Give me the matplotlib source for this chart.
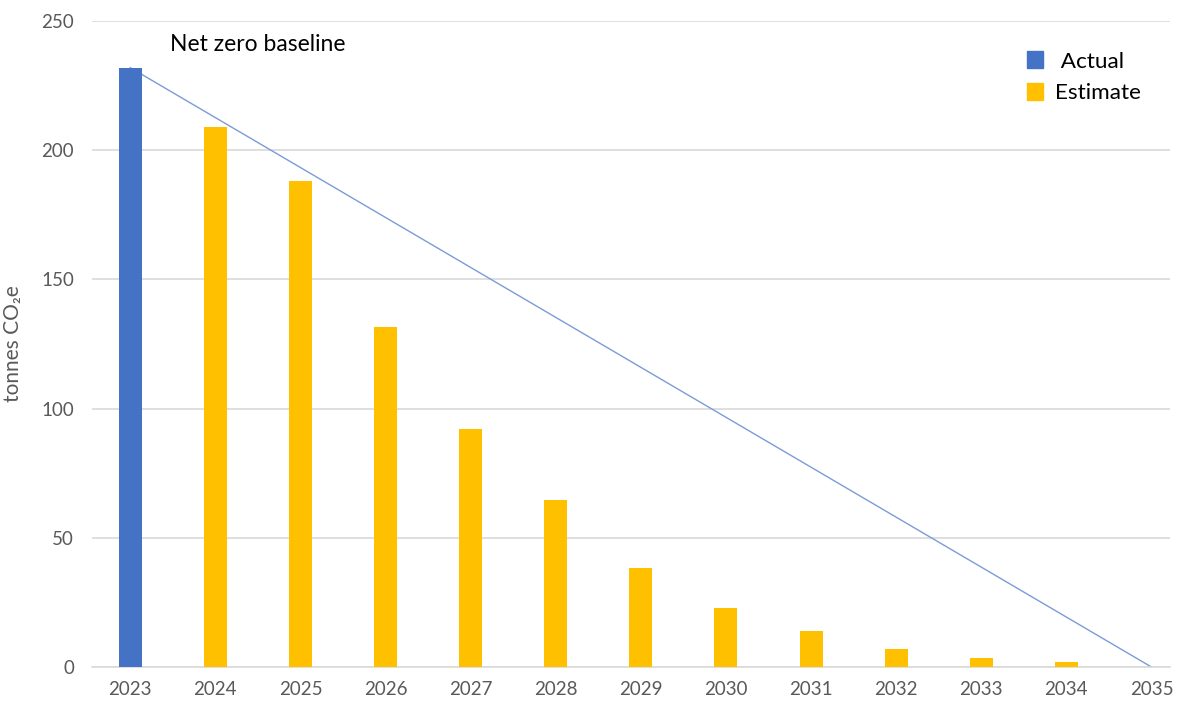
import matplotlib.pyplot as plt
from matplotlib.patches import Patch

plt.rcParams['font.family'] = ['Lato', 'DejaVu Sans']

# data
years = [2023, 2024, 2025, 2026, 2027, 2028, 2029, 2030, 2031, 2032, 2033, 2034, 2035]
actual = [232, 0, 0, 0, 0, 0, 0, 0, 0, 0, 0, 0, 0]
estimate = [0, 209, 188, 131.5, 92, 64.5, 38.5, 23, 14, 7, 3.5, 1.8, 0]
baseline_years = [2023, 2035]
baseline = [232, 0]

blue = '#4472C4'
gold = '#FFC000'
grey = '#595959'

fig = plt.figure(figsize=(11.88, 7.05), dpi=100)
ax = fig.add_axes([0.0774, 0.0539, 0.985 - 0.0774, 0.970 - 0.0539])

ax.plot(baseline_years, baseline, color='#7A9CD6', lw=1.0, zorder=2)
ax.bar(years, actual, width=0.27, color=blue, zorder=3)
ax.bar(years, estimate, width=0.27, color=gold, zorder=3)

ax.set_xlim(2022.55, 2035.22)
ax.set_ylim(0, 250)
ax.set_yticks(range(0, 251, 50))
ax.set_xticks(years)
ax.set_xticklabels([str(y) for y in years])
ax.grid(axis='y', color='#D9D9D9', lw=1.2, zorder=0)
ax.set_axisbelow(True)
for s in ['top', 'right', 'left']:
    ax.spines[s].set_visible(False)
ax.spines['bottom'].set_color('#D9D9D9')
ax.spines['bottom'].set_linewidth(1.2)
ax.tick_params(axis='both', length=0, labelsize=13.5, colors=grey, pad=10)
ax.tick_params(axis='y', pad=13)
ax.set_ylabel('tonnes CO₂e', fontsize=15, color=grey)
ax.yaxis.set_label_coords(-0.064, 0.5)

ax.text(2023.47, 241, 'Net zero baseline', fontsize=16.5, color='black', va='center')

handles = [Patch(color=blue, label=' Actual'), Patch(color=gold, label='Estimate')]
ax.legend(handles=handles, loc='upper left', bbox_to_anchor=(0.848, 0.985), frameon=False,
          fontsize=16.2, handlelength=0.75, handleheight=0.8, handletextpad=0.5, labelspacing=0.5)

plt.savefig('out.png', dpi=100)
